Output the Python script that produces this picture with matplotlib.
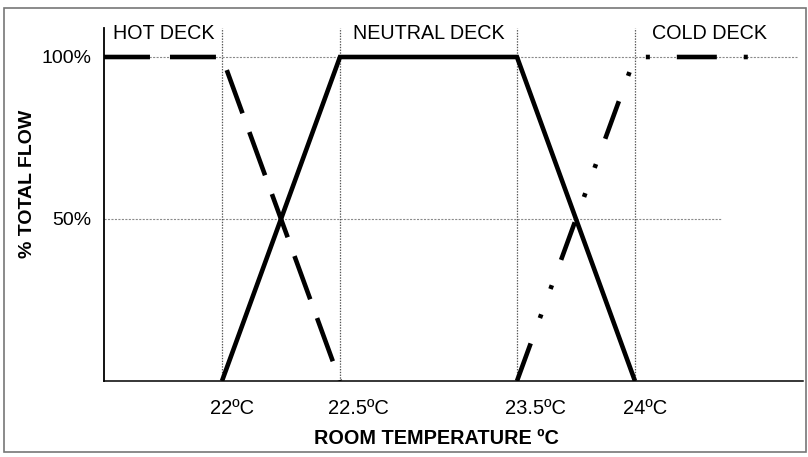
import numpy as np
import matplotlib
matplotlib.use('Agg')
import matplotlib.pyplot as plt
import matplotlib.transforms as mtransforms
from matplotlib.patches import Rectangle

plt.rcParams['font.family'] = ['Liberation Sans', 'DejaVu Sans']
plt.rcParams['lines.scale_dashes'] = False

# data
temp_hot = [21.5, 22, 22.5]
flow_hot = [100, 100, 0]
temp_neutral = [22, 22.5, 23.5, 24]
flow_neutral = [0, 100, 100, 0]
temp_cold = [23.5, 24, 24.5]
flow_cold = [0, 100, 100]

setpoints = [22, 22.5, 23.5, 24]
setpoint_labels = ['22ºC', '22.5ºC', '23.5ºC', '24ºC']
flow_ticks = [50, 100]
flow_labels = ['50%', '100%']
zone_names = ['HOT DECK', 'NEUTRAL DECK', 'COLD DECK']
zone_x = [21.538, 22.573, 24.072]

# schematic (non linear) temperature axis
knots_t = np.array([21.5, 22, 22.5, 23.5, 24, 25])
knots_u = np.array([0, 1, 2, 3.5, 4.5, 6.5])

def fwd(t):
    return np.interp(t, knots_t, knots_u)

def inv(u):
    return np.interp(u, knots_u, knots_t)


fig = plt.figure(figsize=(8.08, 4.57), dpi=100)
ax = fig.add_axes([104/808, 76/457, 699/808, 353/457])
ax.set_xscale('function', functions=(fwd, inv))
ax.set_xlim(21.5, 24.712)
ax.set_ylim(0, 108.95)

# guide lines
ax.hlines(100, 21.5, 24.686, colors='#8a8a8a', linestyles=(0, (1.5, 1)), lw=0.8, zorder=1)
ax.hlines(50, 21.5, 24.37, colors='#8a8a8a', linestyles=(0, (1.5, 1)), lw=0.8, zorder=1)
ax.vlines(setpoints, 0, 108.95, colors='#555555', linestyles=(0, (1, 1)), lw=0.9, zorder=1)

ax.plot(temp_hot, flow_hot, color='black', lw=3.3, linestyle=(0, (33.1, 14.4)),
        solid_joinstyle='miter', zorder=3)
ax.plot(temp_neutral, flow_neutral, color='black', lw=3.3,
        solid_joinstyle='miter', solid_capstyle='butt', zorder=3)
ax.plot(temp_cold, flow_cold, color='black', lw=3.3,
        linestyle=(0, (28.8, 19.4, 2.9, 19.4, 2.9, 19.4)), zorder=3)

for name, x in zip(zone_names, zone_x):
    ax.text(x, 107.3, name, fontsize=14.2, ha='left', va='center')

for s in ['top', 'right']:
    ax.spines[s].set_visible(False)
ax.spines['left'].set_linewidth(1.3)
ax.spines['bottom'].set_linewidth(1.1)

ax.set_xticks(setpoints)
ax.set_xticklabels(setpoint_labels, fontsize=14.5)
ax.set_yticks(flow_ticks)
ax.set_yticklabels(flow_labels, fontsize=14)
ax.tick_params(axis='x', length=0, pad=13)
ax.tick_params(axis='y', length=0, pad=9)
ax.minorticks_off()

shift = mtransforms.ScaledTranslation(-12/100, 0, fig.dpi_scale_trans)
for lab in ax.get_xticklabels():
    lab.set_horizontalalignment('left')
    lab.set_transform(lab.get_transform() + shift)

ax.set_xlabel('ROOM TEMPERATURE ºC', fontsize=14.3, fontweight='bold')
ax.xaxis.set_label_coords(0.475, -0.135)
ax.set_ylabel('% TOTAL FLOW', fontsize=14, fontweight='bold')
ax.yaxis.set_label_coords(-0.097, 0.558)

fig.patches.append(Rectangle((4/808, 5/457), 802/808, 444/457, transform=fig.transFigure,
                             fill=False, edgecolor='#777777', lw=1.2))

fig.savefig('out.png', dpi=100)
